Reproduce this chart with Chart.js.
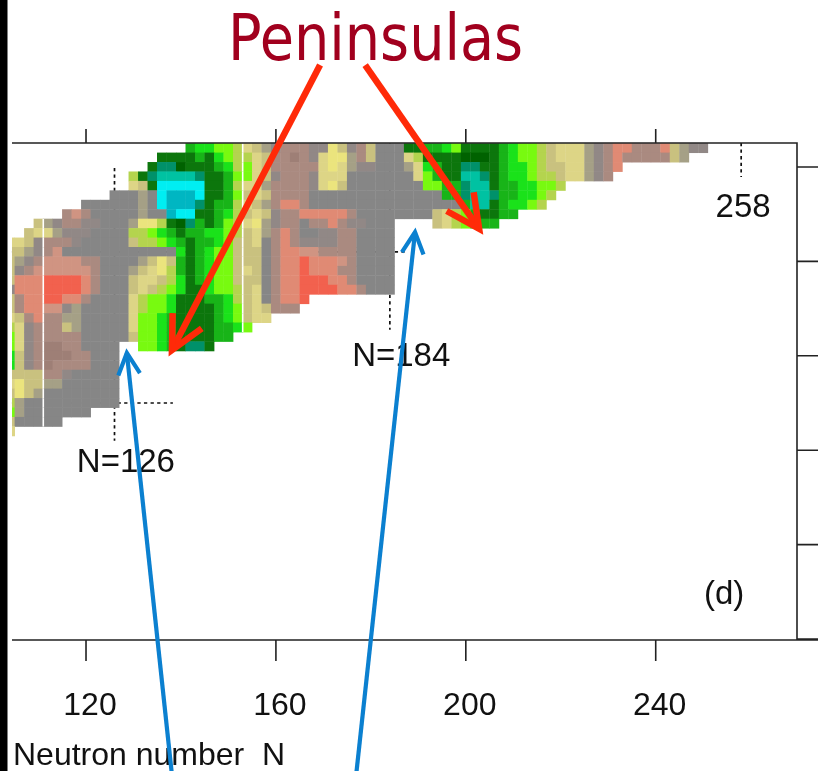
<!DOCTYPE html>
<html>
<head>
<meta charset="utf-8">
<script src="https://cdn.jsdelivr.net/npm/chart.js@4.4.0/dist/chart.umd.min.js"></script>
<style>
  html, body { margin: 0; padding: 0; background: #fff; }
  #wrap { width: 838px; height: 771px; }
</style>
</head>
<body>
<div id="wrap"><canvas id="nuclideChart" width="838" height="771"></canvas></div>
<script>
// axis ranges (neutron number N across, proton rows Z down) and tick positions
const nRange = [104.41, 269.76];
const zRange = [31.79, 137.08];
const nTicks = [120, 160, 200, 240];
const zTicks = [32, 52, 72, 92, 112, 132];

// one entry per row: Z of the row, first N of the row, one letter per even N ('.' = no nucleus)
const rowZ = [136, 134, 132, 130, 128, 126, 124, 122, 120, 118, 116, 114, 112, 110, 108, 106,
  104, 102, 100, 98, 96, 94, 92, 90, 88, 86, 84, 82, 80, 78, 76];
const rowStart = [142, 136, 134, 130, 130, 126, 120, 116, 110, 108, 104, 104, 104, 104, 104, 104,
  104, 104, 104, 104, 104, 104, 104, 104, 104, 104, 104, 104, 104, 104, 104];
const rowCells = [
  'GBBllLytob' + 'mmmbbYtbmt' + 'gggDDGGBlD' + 'DDDGBllLty' + 'yyobmrrmmm' + 'rtobb',
  'DDDDGDBlLL' + 'ytmmMmbyYY' + 'omtgggyLDD' + 'DDdddDGBll' + 'Ltyyyobmrm' + 'mmmmto',
  'DeedDDDGBL' + 'lytmmmmmyY' + 'yobbgggoyB' + 'GDDeeDDGBB' + 'lLttyyobmr',
  'LDeaaaaeDD' + 'Gllytbmmmb' + 'yyyggggggg' + 'ylGDDaaeDG' + 'BBlLLtyyob' + 'm',
  'ytDcccccDD' + 'GLyyommmmb' + 'yYtggggggg' + 'gllGGeaaDG' + 'GBBllL',
  'gggogcCCCc' + 'DDGltytmmm' + 'mggggggggg' + 'gggggGGeaa' + 'eGGBBlL',
  'ggggggogcC' + 'CCeDGGLyto' + 'mrrmgggggg' + 'gggggggggg' + 'GaaDGBBlL',
  'msmgggggog' + 'gCccDDGBLt' + 'ytbmmrrrrr' + 'mggggggggt' + 'yLlGDDGG',
  'tobmmbbggg' + 'oYYLDdeGDG' + 'lLyYobmmgm' + 'mrmbbggg..' + '..tyLlGGG',
  'tyyobbbggg' + 'gLLlBGDGGB' + 'BlLtyomrmg' + 'gbbmmgggg',
  'yytbmmmbgg' + 'gggtLLlBGD' + 'GGBlttygmr' + 'mbbbbmmggg' + 'g',
  'ttobmsgggg' + 'ggggggggBD' + 'GBlltttgmr' + 'rssmmmmggg' + 'g',
  'tobmssssmm' + 'ggggotYtGD' + 'GBlltttgmr' + 'rRrrrsmggg' + 'g',
  'tbmssssssm' + 'gggotyYLGD' + 'GBlltytgmr' + 'rRrrrmmggg' + 'g',
  'trrrRRRRrm' + 'gggtyytLBD' + 'GBlltttgmr' + 'rRRRrrmggg' + 'g',
  'brrrRRRRrm' + 'gggtytLlBD' + 'DBllLtygmr' + 'rRRRRrrmgg' + 'g',
  'tmrrRRrrmg' + 'gggyLllBDD' + 'DGGBLtygmr' + 'rR',
  'tmrrssbogg' + 'gggyLllBDD' + 'DDGBltytmm' + 'm',
  'ytmrmmoogg' + 'gggyllBGDD' + 'DDGBltyy',
  'Lybmmmtogg' + 'gggyllBGDD' + 'DDGGBl',
  'lybmmmmmgg' + 'gggtllBGDD' + 'DDGG',
  'lybmMMmmgg' + 'gg..llBGDe' + 'eD',
  'BtbmMMMmmggg',
  'BtbmMmmmmggg',
  'ttttmmbggggg',
  'yYttoogggggg',
  'tYtogggggggg',
  'Logggggggggg',
  'loggggggg',
  'tggggg',
  'y'
];

const palette = {
  g: '#868686', b: '#918886', o: '#a5a086', m: '#aa8a80', M: '#9e7f76',
  s: '#d09482', r: '#e08a74', R: '#f2614e',
  t: '#c9c17f', y: '#ddd586', Y: '#ebe47d', L: '#b4d44e', l: '#78fa10',
  B: '#1ae21a', G: '#18b418', D: '#0c760c', d: '#006200',
  e: '#00916a', a: '#00c2a2', C: '#00b6c2', c: '#00eef2'
};

// thin white seams in the original map, between these neighbouring columns
const gapBetween = [111, 153];

// dotted guide lines [N1, Z1, N2, Z2]
const guideLines = [
  [126, 131.8, 126, 74.0],
  [104.4, 82, 138.3, 82],
  [104.4, 114, 187.6, 114],
  [184, 137.1, 184, 97.5],
  [258, 137.1, 258, 129.9]
];

// text labels [text, N, Z]
const markLabels = [['N=126', 128.4, 67.4], ['N=184', 186.4, 89.8], ['258', 258.4, 121.5], ['(d)', 254.4, 39.4]];

// arrows [N tail, Z tail, N tip, Z tip]
const redArrows = [[169.3, 153.6, 138.1, 93.2], [178.8, 153.6, 202.8, 118.9]];
const blueArrows = [[138.1, 3.2, 128.6, 92.6], [176.9, 3.2, 189.3, 118.2]];

const cells = [];
const cellColors = [];
rowZ.forEach((z, i) => {
  [...rowCells[i]].forEach((ch, j) => {
    if (ch === '.') return;
    cells.push({ x: rowStart[i] + 2 * j, y: z });
    cellColors.push(palette[ch]);
  });
});

function cellAt(i, n) {
  const j = (n - rowStart[i]) / 2;
  if (j < 0 || j >= rowCells[i].length) return null;
  const ch = rowCells[i][j];
  return ch === '.' ? null : ch;
}

function cellRadius(chart) {
  const x = chart.scales.x;
  const side = x.getPixelForValue(2) - x.getPixelForValue(0) + 0.4;
  return side / Math.SQRT2;
}

function drawArrow(ctx, x0, y0, x1, y1, head, spread) {
  ctx.beginPath();
  ctx.moveTo(x0, y0);
  ctx.lineTo(x1, y1);
  ctx.stroke();
  const a = Math.atan2(y0 - y1, x0 - x1);
  ctx.beginPath();
  ctx.moveTo(x1 + head * Math.cos(a + spread), y1 + head * Math.sin(a + spread));
  ctx.lineTo(x1, y1);
  ctx.lineTo(x1 + head * Math.cos(a - spread), y1 + head * Math.sin(a - spread));
  ctx.stroke();
}

const overlay = {
  id: 'overlay',
  beforeDatasetsDraw(chart) {
    const { ctx, scales: { x, y } } = chart;
    ctx.save();
    ctx.strokeStyle = '#111';
    ctx.lineWidth = 1.7;
    ctx.setLineDash([3.3, 3.3]);
    guideLines.forEach(([n1, z1, n2, z2]) => {
      ctx.beginPath();
      ctx.moveTo(x.getPixelForValue(n1), y.getPixelForValue(z1));
      ctx.lineTo(x.getPixelForValue(n2), y.getPixelForValue(z2));
      ctx.stroke();
    });
    ctx.restore();
  },
  afterDatasetsDraw(chart) {
    const { ctx, chartArea: area, scales: { x, y } } = chart;
    ctx.save();
    ctx.beginPath();
    ctx.rect(area.left, area.top, area.right - area.left, area.bottom - area.top);
    ctx.clip();
    ctx.strokeStyle = '#fff';
    ctx.lineWidth = 1.6;
    gapBetween.forEach(nb => {
      rowZ.forEach((z, i) => {
        if (!cellAt(i, nb - 1) || !cellAt(i, nb + 1)) return;
        const px = x.getPixelForValue(nb);
        ctx.beginPath();
        ctx.moveTo(px, y.getPixelForValue(z + 1));
        ctx.lineTo(px, y.getPixelForValue(z - 1));
        ctx.stroke();
      });
    });
    ctx.restore();
  },
  afterDraw(chart) {
    const { ctx, chartArea: area, scales: { x, y } } = chart;
    ctx.save();

    // frame and ticks
    ctx.strokeStyle = '#222';
    ctx.lineWidth = 1.6;
    ctx.beginPath();
    ctx.moveTo(area.left, area.top);
    ctx.lineTo(area.right, area.top);
    ctx.lineTo(area.right, area.bottom);
    ctx.moveTo(area.left, area.bottom);
    ctx.lineTo(area.right + 21, area.bottom);
    nTicks.forEach(n => {
      const px = x.getPixelForValue(n);
      ctx.moveTo(px, area.top);
      ctx.lineTo(px, area.top - 14);
      ctx.moveTo(px, area.bottom);
      ctx.lineTo(px, area.bottom + 21);
    });
    zTicks.forEach(z => {
      const py = y.getPixelForValue(z);
      ctx.moveTo(area.right, py);
      ctx.lineTo(area.right + 21, py);
    });
    ctx.stroke();

    ctx.fillStyle = '#111';
    ctx.font = '32px "Liberation Sans", Arial, sans-serif';
    ctx.textAlign = 'center';
    nTicks.forEach(n => ctx.fillText(String(n), x.getPixelForValue(n) + 4, area.bottom + 75));
    ctx.textAlign = 'left';
    ctx.fillText('Neutron number  N', area.left + 1, area.bottom + 125);

    ctx.font = '33px "Liberation Sans", Arial, sans-serif';
    ctx.textAlign = 'center';
    markLabels.forEach(([txt, n, z]) => ctx.fillText(txt, x.getPixelForValue(n), y.getPixelForValue(z)));

    // title
    ctx.save();
    ctx.fillStyle = '#a1001e';
    ctx.font = '64px "DejaVu Sans", Verdana, sans-serif';
    const tw = ctx.measureText('Peninsulas').width;
    ctx.translate(x.getPixelForValue(181.0), y.getPixelForValue(154.7));
    ctx.scale(295 / tw, 1);
    ctx.fillText('Peninsulas', 0, 0);
    ctx.restore();

    // arrows
    ctx.lineJoin = 'miter';
    ctx.lineCap = 'butt';
    ctx.strokeStyle = '#ff2a08';
    ctx.lineWidth = 6.5;
    redArrows.forEach(([n0, z0, n1, z1]) =>
      drawArrow(ctx, x.getPixelForValue(n0), y.getPixelForValue(z0), x.getPixelForValue(n1), y.getPixelForValue(z1), 37, 0.46));
    ctx.strokeStyle = '#0b80d0';
    ctx.lineWidth = 4.2;
    blueArrows.forEach(([n0, z0, n1, z1]) =>
      drawArrow(ctx, x.getPixelForValue(n0), y.getPixelForValue(z0), x.getPixelForValue(n1), y.getPixelForValue(z1), 24, 0.47));

    // slide border on the left
    ctx.fillStyle = '#000';
    ctx.fillRect(0, 0, 7.5, chart.height);
    ctx.restore();
  }
};

new Chart(document.getElementById('nuclideChart'), {
  type: 'scatter',
  data: {
    datasets: [{
      data: cells,
      pointBackgroundColor: cellColors,
      pointBorderWidth: 0,
      pointStyle: 'rect',
      pointRadius: ctx => cellRadius(ctx.chart),
      pointHoverRadius: ctx => cellRadius(ctx.chart),
      showLine: false
    }]
  },
  options: {
    responsive: false,
    animation: false,
    devicePixelRatio: 1,
    events: [],
    layout: { padding: { left: 12, top: 143, right: 41, bottom: 131 } },
    scales: {
      x: { type: 'linear', min: nRange[0], max: nRange[1], display: false },
      y: { type: 'linear', min: zRange[0], max: zRange[1], display: false }
    },
    plugins: { legend: { display: false }, tooltip: { enabled: false } }
  },
  plugins: [overlay]
});
</script>
</body>
</html>
